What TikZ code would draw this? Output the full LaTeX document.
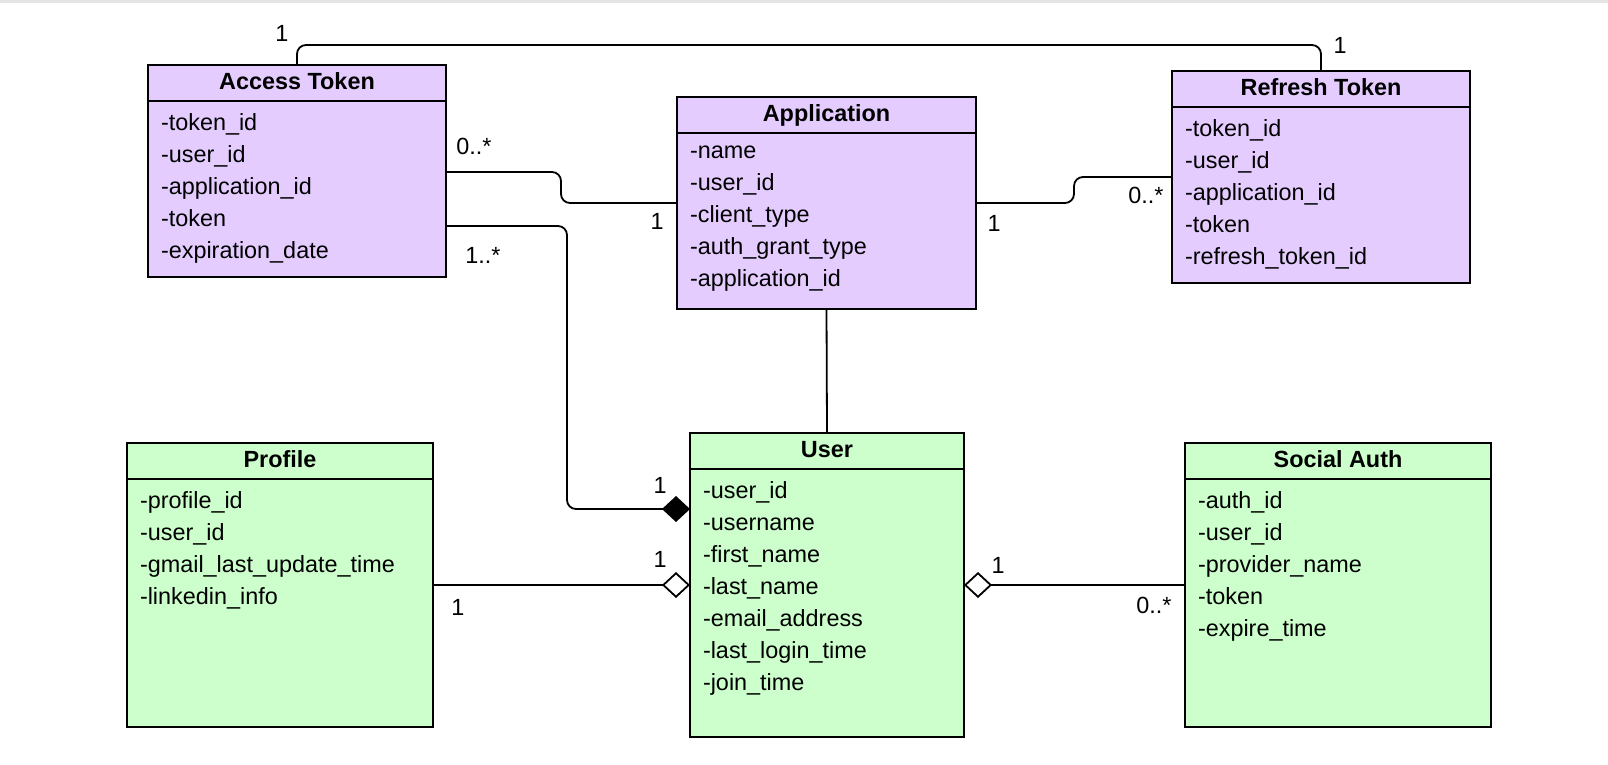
\documentclass[tikz,border=0pt]{standalone}
\usepackage{fontspec}
\setmainfont{Liberation Sans}
\usepackage{xcolor}
\usepackage{tikz}
\usetikzlibrary{arrows.meta, positioning}
\definecolor{tokenfill}{HTML}{E5CCFF}
\definecolor{userfill}{HTML}{CCFFCC}
\tikzstyle{classhead} = [rectangle, draw=black, line width=1.8pt, outer sep=0pt, anchor=north west, minimum height=36pt, text height=17pt, text depth=5pt, font=\fontsize{23.4}{28}\selectfont\bfseries]
\tikzstyle{classbody} = [rectangle, draw=black, line width=1.8pt, outer sep=0pt]
\tikzstyle{attrs}     = [inner sep=0pt, outer sep=0pt, align=left, font=\fontsize{23.4}{32}\selectfont, execute at begin node=\strut]
\tikzstyle{mult}      = [font=\fontsize{23.4}{28}\selectfont]
\tikzstyle{assoc}     = [line width=1.8pt, rounded corners=9pt]
\tikzstyle{comp}      = [assoc, -{Diamond[length=28pt,width=26pt]}]
\tikzstyle{aggr}      = [assoc, -{Diamond[open,fill=white,length=28pt,width=26pt]}]

\begin{document}
\begin{tikzpicture}[x=1pt, y=-1pt]
    \useasboundingbox (0,0) rectangle (1608,764);
    \fill[black!10] (0,0) rectangle (1608,2.5);

    \node (accH) at (148,65)  [classhead, fill=tokenfill, minimum width=298pt] {Access Token};
    \node (acc)  [classbody, fill=tokenfill, minimum width=298pt, minimum height=176pt, below=0pt of accH] {};
    \node (accA) [attrs, below right=13pt and 13pt of acc.north west] {-token\_id\\-user\_id\\-application\_id\\-token\\-expiration\_date};

    \node (appH) at (677,97)  [classhead, fill=tokenfill, minimum width=299pt] {Application};
    \node (app)  [classbody, fill=tokenfill, minimum width=299pt, minimum height=176pt, below=0pt of appH] {};
    \node (appA) [attrs, below right=13pt and 13pt of app.north west] {-name\\-user\_id\\-client\_type\\-auth\_grant\_type\\-application\_id};

    \node (refH) at (1172,71) [classhead, fill=tokenfill, minimum width=298pt] {Refresh Token};
    \node (ref)  [classbody, fill=tokenfill, minimum width=298pt, minimum height=176pt, below=0pt of refH] {};
    \node (refA) [attrs, below right=13pt and 13pt of ref.north west] {-token\_id\\-user\_id\\-application\_id\\-token\\-refresh\_token\_id};

    \node (proH) at (127,443) [classhead, fill=userfill, minimum width=306pt] {Profile};
    \node (pro)  [classbody, fill=userfill, minimum width=306pt, minimum height=248pt, below=0pt of proH] {};
    \node (proA) [attrs, below right=13pt and 13pt of pro.north west] {-profile\_id\\-user\_id\\-gmail\_last\_update\_time\\-linkedin\_info};

    \node (usrH) at (690,433) [classhead, fill=userfill, minimum width=274pt] {User};
    \node (usr)  [classbody, fill=userfill, minimum width=274pt, minimum height=268pt, below=0pt of usrH] {};
    \node (usrA) [attrs, below right=13pt and 13pt of usr.north west] {-user\_id\\-username\\-first\_name\\-last\_name\\-email\_address\\-last\_login\_time\\-join\_time};

    \node (socH) at (1185,443) [classhead, fill=userfill, minimum width=306pt] {Social Auth};
    \node (soc)  [classbody, fill=userfill, minimum width=306pt, minimum height=248pt, below=0pt of socH] {};
    \node (socA) [attrs, below right=13pt and 13pt of soc.north west] {-auth\_id\\-user\_id\\-provider\_name\\-token\\-expire\_time};

    \draw [assoc] (accH.north) -- ++(0,-20) -| (refH.north);
    \draw [assoc] ([yshift=17pt]acc.east) -- ++(115,0) |- ([yshift=18pt]app.west);
    \draw [assoc] ([yshift=18pt]app.east) -- ++(98,0) |- ([yshift=18pt]ref.west);
    \draw [assoc] (app.south) -- (usrH.north);
    \draw [comp]  ([yshift=-37pt]acc.east) -- ++(121,0) |- ([yshift=94pt]usr.west);
    \draw [aggr]  ([yshift=18pt]pro.east) -- ([yshift=18pt]usr.west);
    \draw [aggr]  ([yshift=18pt]soc.west) -- ([yshift=18pt]usr.east);

    \node (accTop) at (282,33)   [mult] {1};
    \node (refTop) at (1340,45)  [mult] {1};
    \node (accApp) at (474,146)  [mult] {0..*};
    \node (appAcc) at (657,221)  [mult] {1};
    \node (accUsr) at (483,255)  [mult] {1..*};
    \node (appRef) at (994,223)  [mult] {1};
    \node (refApp) at (1146,195) [mult] {0..*};
    \node (usrAcc) at (660,485)  [mult] {1};
    \node (usrPro) at (660,559)  [mult] {1};
    \node (proUsr) at (458,607)  [mult] {1};
    \node (usrSoc) at (998,565)  [mult] {1};
    \node (socUsr) at (1154,605) [mult] {0..*};
\end{tikzpicture}
\end{document}
